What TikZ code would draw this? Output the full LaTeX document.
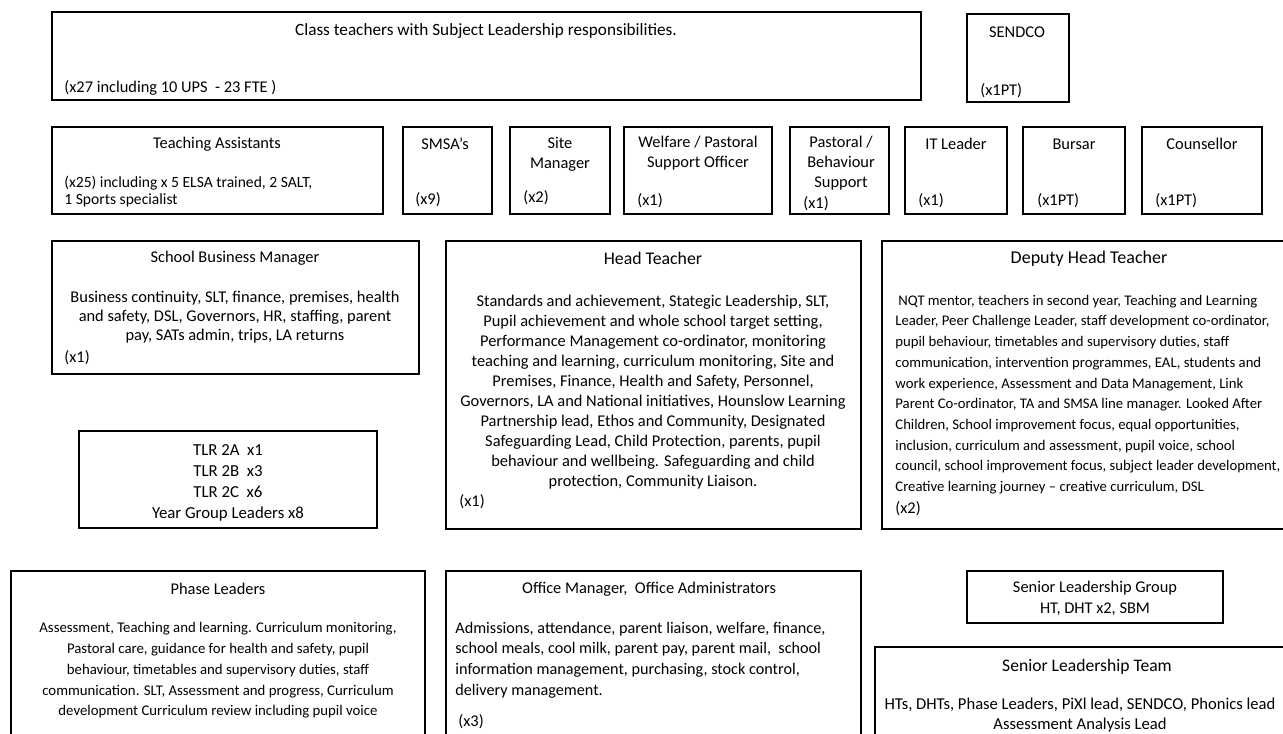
\documentclass[tikz,border=0pt]{standalone}
\usepackage{fontspec}
\setmainfont{Carlito}
\usetikzlibrary{positioning,fit}

\newcommand{\fsz}[2]{\fontsize{#1}{#2}\selectfont}

\tikzset{
  box/.style={rectangle, draw, line width=0.7pt, inner sep=0pt},
  ttl/.style={inner sep=0pt, align=center, font=\fsz{8.2}{10}},
  cnt/.style={inner sep=0pt, anchor=west, font=\fsz{8.2}{10}},
  lft/.style={inner sep=0pt, anchor=west, align=left, font=\fsz{8.2}{10}}
}

\begin{document}
\begin{tikzpicture}[x=0.5pt, y=-0.5pt]
\useasboundingbox (0,0) rectangle (1283,733);
\clip (0,0) rectangle (1283,733);

% top row
\node[box, fit={(52,12) (921,100)}] (cls) {};
\node[ttl, font=\fsz{8.6}{10}] (clsT) at (486,31) {Class teachers with Subject Leadership responsibilities.};
\node[cnt] (clsN) at (64,88) {(x27 including 10 UPS~ - 23 FTE )};

\node[box, fit={(967,14) (1069,102)}] (sendco) {};
\node[ttl] (sendcoT) at (1017,32) {SENDCO};
\node[cnt] (sendcoN) at (980,91) {(x1PT)};

% support staff
\node[box, fit={(52,127) (383,214)}] (ta) {};
\node[ttl] (taT) at (217,144) {Teaching Assistants};
\node[lft, font=\fsz{7.8}{8.7}] (taN) at (64,191.5) {(x25) including x 5 ELSA trained, 2 SALT,\\1 Sports specialist};

\node[box, fit={(403,127) (492,214)}] (smsa) {};
\node[ttl] (smsaT) at (445,144) {SMSA’s};
\node[cnt] (smsaN) at (415,200) {(x9)};

\node[box, fit={(510,127) (610,214)}] (site) {};
\node[ttl] (siteT) at (560,154) {Site\\Manager};
\node[cnt] (siteN) at (523,198) {(x2)};

\node[box, fit={(624,127) (772,214)}] (welf) {};
\node[ttl] (welfT) at (698,153.5) {Welfare / Pastoral\\Support Officer};
\node[cnt] (welfN) at (637,201) {(x1)};

\node[box, fit={(790,127) (889,214)}] (past) {};
\node[ttl] (pastT) at (841,163.5) {Pastoral /\\Behaviour\\Support};
\node[cnt] (pastN) at (803,204) {(x1)};

\node[box, fit={(905,127) (1007,214)}] (itl) {};
\node[ttl] (itlT) at (956,144) {IT Leader};
\node[cnt] (itlN) at (918,201) {(x1)};

\node[box, fit={(1023,127) (1125,214)}] (burs) {};
\node[ttl] (bursT) at (1074,144) {Bursar};
\node[cnt] (bursN) at (1037,201) {(x1PT)};

\node[box, fit={(1142,127) (1262,214)}] (couns) {};
\node[ttl] (counsT) at (1202,144) {Counsellor};
\node[cnt] (counsN) at (1155,201) {(x1PT)};

% leadership
\node[box, fit={(52,241) (419,374)}] (sbm) {};
\node[ttl] (sbmT) at (235,258) {School Business Manager};
\node[ttl, font=\fsz{8.2}{9.5}] (sbmB) at (235,317) {Business continuity, SLT, finance, premises, health\\and safety, DSL, Governors, HR, staffing, parent\\pay, SATs admin, trips, LA returns};
\node[cnt] (sbmN) at (64,358) {(x1)};

\node[box, fit={(79,431) (377,528)}] (tlr) {};
\node[ttl, font=\fsz{8.4}{10.5}] (tlrT) at (228,482.5) {TLR 2A~ x1\\TLR 2B~ x3\\TLR 2C~ x6\\Year Group Leaders x8};

\node[box, fit={(446,241) (861,529)}] (head) {};
\node[ttl, font=\fsz{8.9}{10}] (headT) at (653,258) {Head Teacher};
\node[ttl] (headB) at (653,392) {Standards and achievement, Stategic Leadership, SLT,\\Pupil achievement and whole school target setting,\\Performance Management co-ordinator, monitoring\\teaching and learning, curriculum monitoring, Site and\\Premises, Finance, Health and Safety, Personnel,\\Governors, LA and National initiatives, Hounslow Learning\\Partnership lead, Ethos and Community, Designated\\Safeguarding Lead, Child Protection, parents, pupil\\behaviour and wellbeing. Safeguarding and child\\protection, Community Liaison.};
\node[cnt] (headN) at (459,502) {(x1)};

\node[box, fit={(882,241) (1295,529)}] (dht) {};
\node[ttl, font=\fsz{9}{10}] (dhtT) at (1089,259) {Deputy Head Teacher};
\node[lft, font=\fsz{7.36}{10.35}] (dhtB) at (895,394.5) {\hspace*{1.5pt}NQT mentor, teachers in second year, Teaching and Learning\\Leader, Peer Challenge Leader, staff development co-ordinator,\\pupil behaviour, timetables and supervisory duties, staff\\communication, intervention programmes, EAL, students and\\work experience, Assessment and Data Management, Link\\Parent Co-ordinator, TA and SMSA line manager. Looked After\\Children, School improvement focus, equal opportunities,\\inclusion, curriculum and assessment, pupil voice, school\\council, school improvement focus, subject leader development,\\Creative learning journey – creative curriculum, DSL};
\node[cnt] (dhtN) at (895,509) {(x2)};

% bottom row
\node[box, fit={(11,571) (425,760)}] (phase) {};
\node[ttl] (phaseT) at (218,589) {Phase Leaders};
\node[ttl, font=\fsz{7.4}{10.35}] (phaseB) at (218,670.5) {Assessment, Teaching and learning. Curriculum monitoring,\\Pastoral care, guidance for health and safety, pupil\\behaviour, timetables and supervisory duties, staff\\communication. SLT, Assessment and progress, Curriculum\\development Curriculum review including pupil voice};

\node[box, fit={(446,571) (861,760)}] (office) {};
\node[ttl] (officeT) at (649,589) {Office Manager,~ Office Administrators};
\node[lft, font=\fsz{8.1}{10.35}] (officeB) at (455,660) {Admissions, attendance, parent liaison, welfare, finance,\\school meals, cool milk, parent pay, parent mail,~ school\\information management, purchasing, stock control,\\delivery management.};
\node[cnt] (officeN) at (458,722) {(x3)};

\node[box, fit={(967,571) (1223,623)}] (slg) {};
\node[ttl, font=\fsz{8.2}{10.5}] (slgT) at (1095,598.5) {Senior Leadership Group\\HT, DHT x2, SBM};

\node[box, fit={(875,647) (1295,760)}] (slt) {};
\node[ttl, font=\fsz{8.8}{10}] (sltT) at (1087,667) {Senior Leadership Team};
\node[ttl, font=\fsz{8.3}{10}] (sltB) at (1080,715.5) {HTs, DHTs, Phase Leaders, PiXl lead, SENDCO, Phonics lead\\Assessment Analysis Lead};
\end{tikzpicture}
\end{document}
